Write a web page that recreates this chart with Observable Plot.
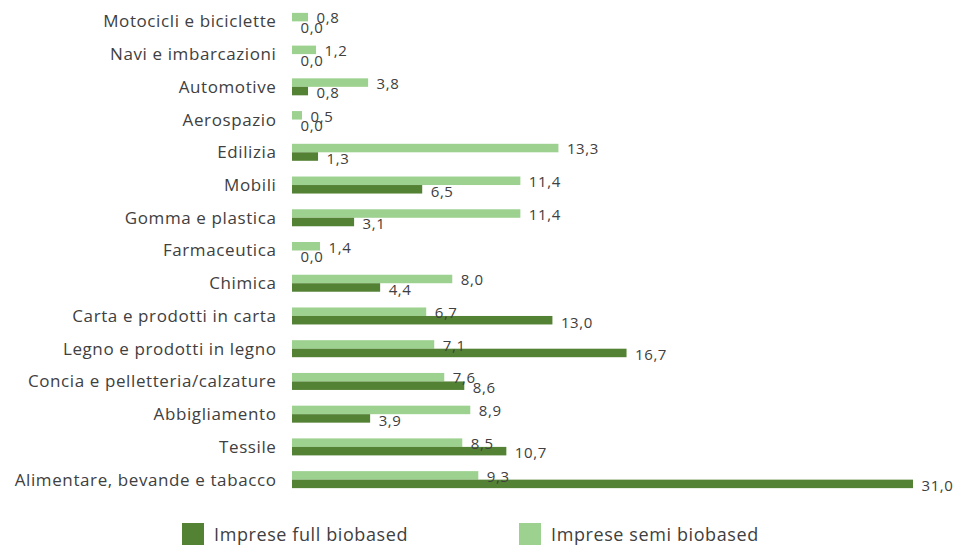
<!DOCTYPE html>
<html>
<head>
<meta charset="utf-8">
<script src="https://cdn.jsdelivr.net/npm/d3@7"></script>
<script src="https://cdn.jsdelivr.net/npm/@observablehq/plot@0.6"></script>
<style>
  body { margin: 0; background: #fff; font-family: "Open Sans", sans-serif; }
  #wrap { position: relative; width: 954px; height: 545px; }
  svg text { letter-spacing: 0.6px; }
  .leg { position: absolute; top: 522px; display: flex; align-items: center; font-size: 18px; letter-spacing: 0.6px; color: #404040; }
  .sw { width: 22px; height: 22px; margin-right: 10px; }
</style>
</head>
<body>
<div id="wrap"></div>
<script>
const categories = [
  "Motocicli e biciclette", "Navi e imbarcazioni", "Automotive", "Aerospazio",
  "Edilizia", "Mobili", "Gomma e plastica", "Farmaceutica", "Chimica",
  "Carta e prodotti in carta", "Legno e prodotti in legno",
  "Concia e pelletteria/calzature", "Abbigliamento", "Tessile",
  "Alimentare, bevande e tabacco"
];
const semiBiobased = [0.8, 1.2, 3.8, 0.5, 13.3, 11.4, 11.4, 1.4, 8.0, 6.7, 7.1, 7.6, 8.9, 8.5, 9.3];
const fullBiobased = [0.0, 0.0, 0.8, 0.0, 1.3, 6.5, 3.1, 0.0, 4.4, 13.0, 16.7, 8.6, 3.9, 10.7, 31.0];
const seriesNames = ["Imprese full biobased", "Imprese semi biobased"];
const colors = ["#548235", "#9DD190"];

const semi = categories.map((c, i) => ({cat: c, v: semiBiobased[i]}));
const full = categories.map((c, i) => ({cat: c, v: fullBiobased[i]}));
const fmt = d => d.v.toFixed(1).replace(".", ",");

const H = 505, mT = 5, mB = 9;
const band = (H - mT - mB) / categories.length;
const barH = 8.5;

const chart = Plot.plot({
  width: 954,
  height: H,
  marginLeft: 292,
  marginRight: 41,
  marginTop: mT,
  marginBottom: mB,
  style: {fontFamily: "'Open Sans', sans-serif", color: "#404040"},
  x: {domain: [0, 31], axis: null},
  y: {domain: categories, padding: 0, round: false, axis: null},
  marks: [
    Plot.barX(semi, {x: "v", y: "cat", fill: colors[1], insetTop: band / 2 - barH, insetBottom: band / 2}),
    Plot.barX(full, {x: "v", y: "cat", fill: colors[0], insetTop: band / 2, insetBottom: band / 2 - barH}),
    Plot.ruleX([0], {stroke: "#d9d9d9", strokeWidth: 1, y1: categories[0], y2: categories[categories.length - 1], insetTop: -8, insetBottom: -16}),
    Plot.text(semi, {x: "v", y: "cat", text: fmt, textAnchor: "start", dx: 8, dy: -barH / 2 + 1, fontSize: 15, fill: "#404040"}),
    Plot.text(full, {x: "v", y: "cat", text: fmt, textAnchor: "start", dx: 8, dy: barH / 2 + 2, fontSize: 15, fill: "#404040"}),
    Plot.axisY({tickSize: 0, tickPadding: 16, fontSize: 17, label: null, fill: "#404040"})
  ]
});

const wrap = document.getElementById("wrap");
wrap.appendChild(chart);
const legPos = [182, 519];
seriesNames.forEach((name, i) => {
  const d = document.createElement("div");
  d.className = "leg";
  d.style.left = legPos[i] + "px";
  const s = document.createElement("div");
  s.className = "sw";
  s.style.background = colors[i];
  const t = document.createElement("span");
  t.textContent = name;
  d.appendChild(s); d.appendChild(t);
  wrap.appendChild(d);
});
</script>
</body>
</html>
